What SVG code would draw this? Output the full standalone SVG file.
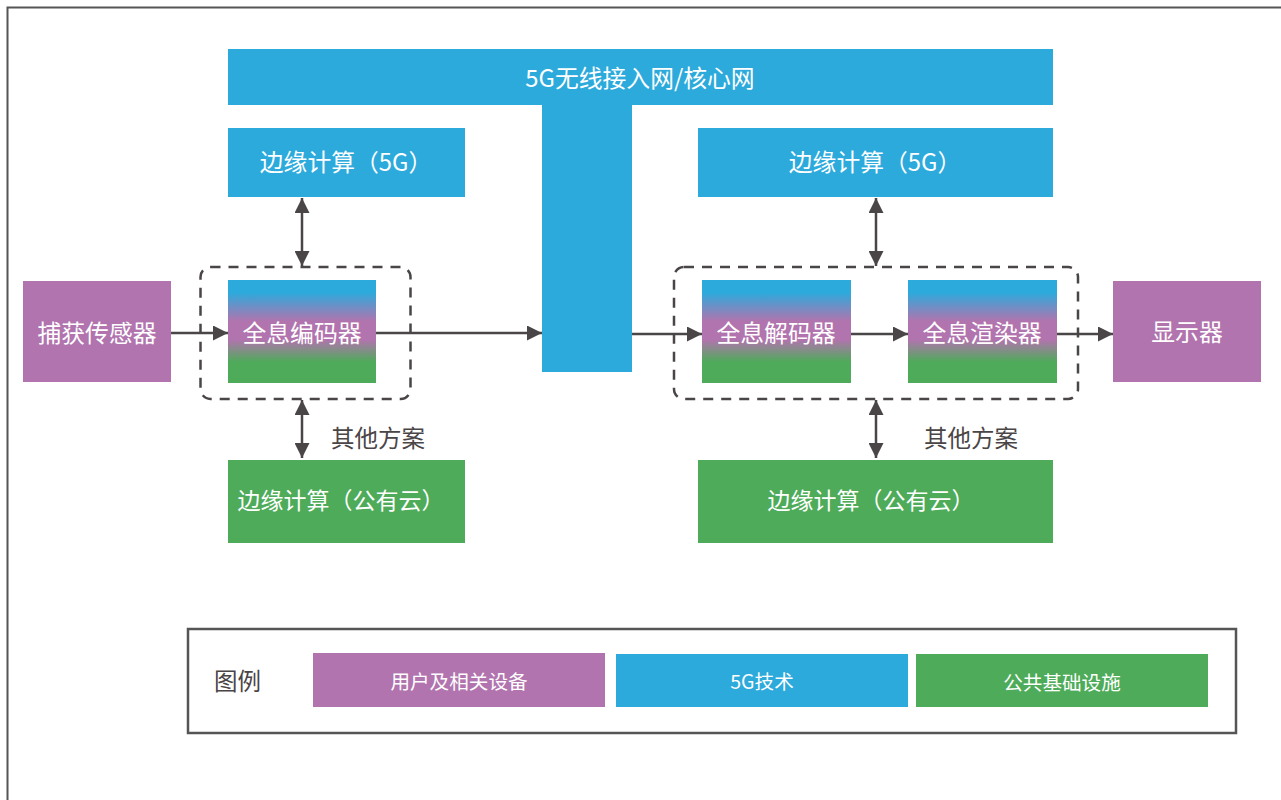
<svg xmlns="http://www.w3.org/2000/svg" width="1281" height="800" viewBox="0 0 1281 800">
<defs>
<linearGradient id="grad" x1="0" y1="0" x2="0" y2="1">
<stop offset="0" stop-color="#2caadc"/>
<stop offset="0.12" stop-color="#2caadc"/>
<stop offset="0.4" stop-color="#b174ae"/>
<stop offset="0.58" stop-color="#b174ae"/>
<stop offset="0.8" stop-color="#4dab59"/>
<stop offset="1" stop-color="#4dab59"/>
</linearGradient>
<marker id="ah" viewBox="0 0 10 10" refX="10" refY="5" markerWidth="6" markerHeight="6" orient="auto-start-reverse" markerUnits="strokeWidth">
<path d="M0,0 L10,5 L0,10 z" fill="#4a4546"/>
</marker>
<style>
.blue{fill:#2caadc}
.purple{fill:#b174ae}
.green{fill:#4dab59}
.wt{font-family:"Noto Sans CJK SC","Noto Sans",sans-serif;fill:#ffffff;text-anchor:middle;dominant-baseline:central;font-size:23.8px}
.ct{font-size:23px}
.lt{font-family:"Noto Sans CJK SC","Noto Sans",sans-serif;fill:#ffffff;text-anchor:middle;dominant-baseline:central;font-size:19.6px}
.dt{font-family:"Noto Sans CJK SC","Noto Sans",sans-serif;fill:#4a4546;dominant-baseline:central;font-size:23.5px}
.conn{stroke:#4a4546;stroke-width:2.5;fill:none}
.dash{stroke:#4a4546;stroke-width:2.5;fill:none;stroke-dasharray:10 8}
</style>
</defs>
<rect x="0" y="0" width="1281" height="800" fill="#ffffff"/>
<rect x="7.5" y="7.5" width="1300" height="820" fill="none" stroke="#555555" stroke-width="2"/>

<g id="core-network">
<rect class="blue" x="228" y="49" width="825" height="56"/>
<rect class="blue" x="542" y="104" width="90" height="268"/>
<text class="wt" x="640" y="76">5G无线接入网/核心网</text>
</g>

<g id="edge-5g-left">
<rect class="blue" x="228" y="128" width="237" height="69"/>
<text class="wt" x="346" y="160">边缘计算（5G）</text>
</g>
<g id="edge-5g-right">
<rect class="blue" x="698" y="128" width="355" height="69"/>
<text class="wt" x="875" y="160">边缘计算（5G）</text>
</g>

<g id="encoder-group">
<rect class="dash" x="200.5" y="267" width="210" height="132" rx="10"/>
</g>
<g id="decoder-group">
<rect class="dash" x="674" y="267" width="404" height="132" rx="10"/>
</g>

<g id="sensor">
<rect class="purple" x="23" y="281" width="148" height="101"/>
<text class="wt" x="97" y="331">捕获传感器</text>
</g>
<g id="encoder">
<rect fill="url(#grad)" x="228" y="280" width="148" height="103"/>
<text class="wt" x="302" y="331">全息编码器</text>
</g>
<g id="decoder">
<rect fill="url(#grad)" x="702" y="280" width="149" height="103"/>
<text class="wt" x="776" y="331">全息解码器</text>
</g>
<g id="renderer">
<rect fill="url(#grad)" x="908" y="280" width="149" height="103"/>
<text class="wt" x="982" y="331">全息渲染器</text>
</g>
<g id="display">
<rect class="purple" x="1113" y="281" width="148" height="101"/>
<text class="wt" x="1187" y="330">显示器</text>
</g>

<g id="edge-cloud-left">
<rect class="green" x="228" y="460" width="237" height="83"/>
<text class="wt ct" x="341" y="499">边缘计算（公有云）</text>
</g>
<g id="edge-cloud-right">
<rect class="green" x="698" y="460" width="355" height="83"/>
<text class="wt ct" x="871" y="499">边缘计算（公有云）</text>
</g>

<g id="labels">
<text class="dt" x="331" y="437">其他方案</text>
<text class="dt" x="924" y="437">其他方案</text>
</g>

<g id="connectors">
<line class="conn" x1="171" y1="333" x2="228" y2="333" marker-end="url(#ah)"/>
<line class="conn" x1="376" y1="333" x2="542" y2="333" marker-end="url(#ah)"/>
<line class="conn" x1="632" y1="334" x2="702" y2="334" marker-end="url(#ah)"/>
<line class="conn" x1="851" y1="334" x2="908" y2="334" marker-end="url(#ah)"/>
<line class="conn" x1="1057" y1="334" x2="1113" y2="334" marker-end="url(#ah)"/>
<line class="conn" x1="302" y1="198" x2="302" y2="266" marker-start="url(#ah)" marker-end="url(#ah)"/>
<line class="conn" x1="302" y1="400" x2="302" y2="458" marker-start="url(#ah)" marker-end="url(#ah)"/>
<line class="conn" x1="876" y1="198" x2="876" y2="266" marker-start="url(#ah)" marker-end="url(#ah)"/>
<line class="conn" x1="876" y1="400" x2="876" y2="458" marker-start="url(#ah)" marker-end="url(#ah)"/>
</g>

<g id="legend">
<rect x="188" y="629" width="1048" height="104" fill="none" stroke="#555555" stroke-width="2.5"/>
<text class="dt" x="214" y="680">图例</text>
<rect class="purple" x="313" y="653" width="292" height="54"/>
<text class="lt" x="459" y="680">用户及相关设备</text>
<rect class="blue" x="616" y="654" width="292" height="53"/>
<text class="lt" x="762" y="680">5G技术</text>
<rect class="green" x="916" y="654" width="292" height="53"/>
<text class="lt" x="1062" y="681">公共基础设施</text>
</g>
</svg>
